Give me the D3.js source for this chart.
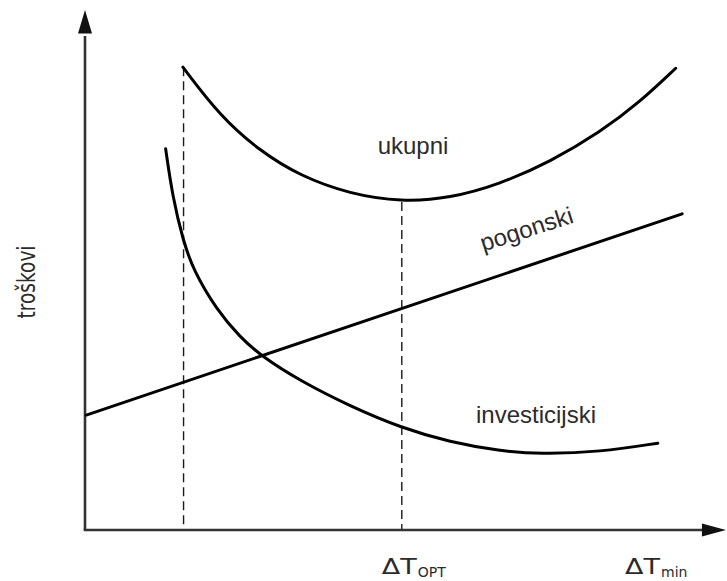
<!DOCTYPE html>
<html>
<head>
<meta charset="utf-8">
<script src="https://cdn.jsdelivr.net/npm/d3@7"></script>
<style>
  html, body { margin: 0; padding: 0; background: #fff; }
  svg { display: block; }
  text { fill: #2b2b2b; }
</style>
</head>
<body>
<svg id="chart" width="727" height="581"></svg>
<script>
// Cost curves versus minimum temperature difference (arbitrary units, 0..100)
const ukupniX = [15.3, 21.1, 27.3, 33.6, 41.4, 49.5, 57, 64.8, 72.7, 80.5, 86.7, 92.3];
const ukupniY = [89, 79.6, 72.9, 68.1, 64.6, 63.1, 63.8, 66.5, 70.8, 76.5, 82.3, 88.8];

const investX = [12.6, 13.7, 15.3, 16.9, 20.6, 24.2, 27.7, 33.6, 41.4, 49.5, 57, 64.8, 71.1, 80.5, 89.5];
const investY = [73.3, 64, 55.8, 50, 42.3, 37.1, 33.3, 28.7, 23.8, 19.6, 16.9, 15.2, 14.6, 15, 16.7];

const pogonskiX = [0.2, 93.3];
const pogonskiY = [22.1, 60.8];

// Lower-limit and optimum markers
const markerX = [15.4, 49.5];
const markerTop = [89, 63.1];

const labels = ["ukupni", "pogonski", "investicijski"];
const yTitle = "troškovi";
const tickSubs = ["OPT", "min"];
const tickPos = [markerX[1], 87.5];

const svg = d3.select("#chart");

const x = d3.scaleLinear().domain([0, 100]).range([85, 725]);
const y = d3.scaleLinear().domain([0, 100]).range([530, 10]);

const line = d3.line()
  .x(d => x(d[0]))
  .y(d => y(d[1]))
  .curve(d3.curveBasis);

// dashed markers
svg.selectAll("line.marker")
  .data(markerX.map((v, i) => [v, markerTop[i]]))
  .join("line")
  .attr("class", "marker")
  .attr("x1", d => x(d[0])).attr("x2", d => x(d[0]))
  .attr("y1", d => y(d[1])).attr("y2", y(0))
  .attr("stroke", "#1a1a1a")
  .attr("stroke-width", 1.4)
  .attr("stroke-dasharray", "9,5");

// axes with arrowheads
const axisColor = "#333";
svg.append("line")
  .attr("x1", x(0)).attr("y1", y(0))
  .attr("x2", x(0)).attr("y2", y(95))
  .attr("stroke", axisColor).attr("stroke-width", 2.6);
svg.append("line")
  .attr("x1", x(0) - 1.3).attr("y1", y(0))
  .attr("x2", x(97)).attr("y2", y(0))
  .attr("stroke", axisColor).attr("stroke-width", 2.6);

svg.append("path")
  .attr("d", `M${x(0)},${y(100)} L${x(0) - 7},${y(95.5)} L${x(0) + 7},${y(95.5)} Z`)
  .attr("fill", "#111");
svg.append("path")
  .attr("d", `M${x(100) + 1},${y(0)} L${x(96.4)},${y(0) - 6.5} L${x(96.4)},${y(0) + 6.5} Z`)
  .attr("fill", "#111");

// curves
const curves = [
  d3.zip(ukupniX, ukupniY),
  d3.zip(investX, investY),
  d3.zip(pogonskiX, pogonskiY)
];
svg.selectAll("path.curve")
  .data(curves)
  .join("path")
  .attr("class", "curve")
  .attr("d", line)
  .attr("fill", "none")
  .attr("stroke", "#000")
  .attr("stroke-width", 3)
  .attr("stroke-linecap", "round");

// curve labels
const labelFont = "'Liberation Sans', Arial, sans-serif";
svg.append("text")
  .attr("x", 413).attr("y", 154)
  .attr("text-anchor", "middle")
  .style("font-family", labelFont).style("font-size", "24px")
  .text(labels[0]);

const ang = Math.atan2(y(pogonskiY[0]) - y(pogonskiY[1]), x(pogonskiX[1]) - x(pogonskiX[0])) * 180 / Math.PI;
svg.append("text")
  .attr("transform", `translate(529,237) rotate(${-ang + 1})`)
  .attr("text-anchor", "middle")
  .style("font-family", labelFont).style("font-size", "24px")
  .text(labels[1]);

svg.append("text")
  .attr("x", 476).attr("y", 423)
  .style("font-family", labelFont).style("font-size", "24px")
  .text(labels[2]);

// y title
svg.append("text")
  .attr("transform", "translate(35,282) rotate(-90)")
  .attr("text-anchor", "middle")
  .attr("textLength", 73)
  .attr("lengthAdjust", "spacingAndGlyphs")
  .style("font-family", "'DejaVu Sans', Verdana, sans-serif").style("font-size", "24px")
  .text(yTitle);

// x tick labels: ΔT with subscript
const tickFont = "'DejaVu Sans', Verdana, sans-serif";
tickPos.forEach((v, i) => {
  const x0 = x(v) - 20;
  svg.append("text")
    .attr("x", x0).attr("y", 574)
    .attr("textLength", 35)
    .attr("lengthAdjust", "spacingAndGlyphs")
    .style("font-family", tickFont).style("font-size", "21px")
    .text("ΔT");
  svg.append("text")
    .attr("x", x0 + 36).attr("y", 577)
    .style("font-family", tickFont).style("font-size", "14px")
    .text(tickSubs[i]);
});
</script>
</body>
</html>
